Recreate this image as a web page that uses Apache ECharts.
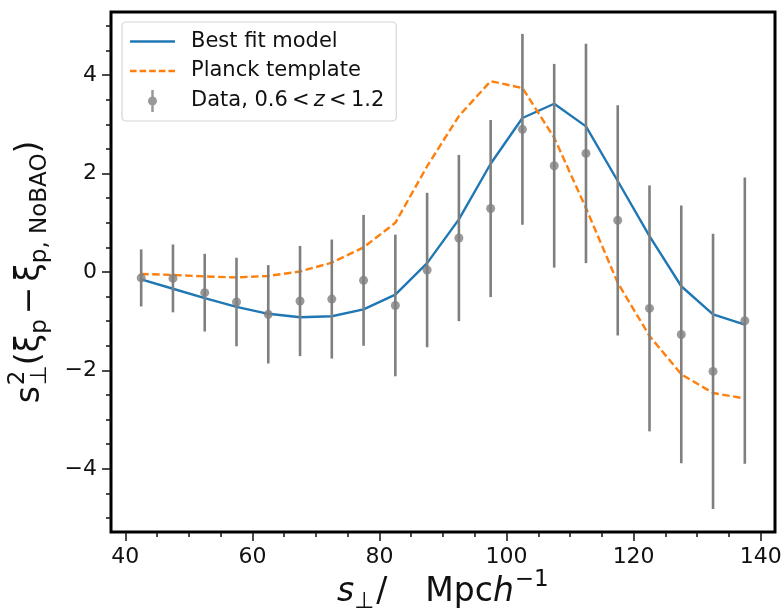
<!DOCTYPE html>
<html>
<head>
<meta charset="utf-8">
<script src="https://cdn.jsdelivr.net/npm/echarts@6/dist/echarts.min.js"></script>
<style>
html,body{margin:0;padding:0;background:#fff;}
#c{width:784px;height:613px;}
</style>
</head>
<body>
<div id="c"></div>
<script>
// ---- data ----
const sPerp = [42.5, 47.5, 52.5, 57.5, 62.5, 67.5, 72.5, 77.5, 82.5, 87.5,
               92.5, 97.5, 102.5, 107.5, 112.5, 117.5, 122.5, 127.5, 132.5, 137.5];
const dataY = [-0.12, -0.13, -0.42, -0.61, -0.86, -0.59, -0.55, -0.17, -0.68, 0.04,
               0.69, 1.29, 2.90, 2.16, 2.41, 1.05, -0.74, -1.27, -2.02, -0.99];
const dataErr = [0.58, 0.69, 0.79, 0.90, 1.00, 1.12, 1.21, 1.33, 1.44, 1.57,
                 1.69, 1.80, 1.94, 2.07, 2.23, 2.34, 2.50, 2.62, 2.80, 2.91];
const bestFit = [-0.15, -0.34, -0.53, -0.71, -0.85, -0.92, -0.90, -0.76, -0.46, 0.18,
                 1.07, 2.20, 3.13, 3.42, 2.96, 1.85, 0.73, -0.29, -0.86, -1.07];
const planck = [-0.04, -0.06, -0.09, -0.11, -0.08, 0.01, 0.19, 0.50, 1.00, 2.15,
                3.17, 3.88, 3.74, 2.73, 1.30, -0.22, -1.30, -2.08, -2.46, -2.57];
const xTicks = [40, 60, 80, 100, 120, 140];
const xMinorTicks = [40, 45, 50, 55, 60, 65, 70, 75, 80, 85, 90, 95, 100, 105, 110, 115, 120, 125, 130, 135, 140];
const yTicks = [-4, -2, 0, 2, 4];
const yMinorTicks = [-5, -4.5, -4, -3.5, -3, -2.5, -2, -1.5, -1, -0.5, 0, 0.5, 1, 1.5, 2, 2.5, 3, 3.5, 4, 4.5, 5];
const nameBest = 'Best fit model';
const namePlanck = 'Planck template';
const nameData = 'Data, 0.6 < z < 1.2';

// ---- helpers ----
const FAM = '"DejaVu Sans"';
const ctx = document.createElement('canvas').getContext('2d');
function mathText(pieces) {
  let x = 0;
  const els = pieces.map(p => {
    ctx.font = p.font;
    const w = ctx.measureText(p.t).width;
    const el = {
      type: 'text', x: x + (p.dx || 0), y: p.dy || 0, silent: true,
      style: { text: p.t, font: p.font, fill: '#111', align: 'left', verticalAlign: 'middle' }
    };
    if (p.adv !== false) x += w + (p.sp || 0);
    return el;
  });
  return { els, width: x };
}
const M = '33px ' + FAM, MI = 'italic 33px ' + FAM, S = '23px ' + FAM;

const xLabel = mathText([
  { t: 's', font: MI },
  { t: '⊥', font: S, dy: 10, sp: 2 },
  { t: '/', font: M, sp: 38 },
  { t: 'Mpc', font: M },
  { t: 'h', font: MI, sp: 1 },
  { t: '−1', font: S, dy: -12 }
]);
const yLabel = mathText([
  { t: 's', font: M, sp: 1 },
  { t: '2', font: S, dy: -12, adv: false },
  { t: '⊥', font: S, dy: 10 },
  { t: '(', font: M },
  { t: 'ξ', font: M },
  { t: 'p', font: S, dy: 10, sp: 5 },
  { t: '−', font: M, sp: 5 },
  { t: 'ξ', font: M },
  { t: 'p, NoBAO', font: S, dy: 10 },
  { t: ')', font: M }
]);

const chart = echarts.init(document.getElementById('c'), null, { renderer: 'canvas' });

const gray = '#7f7f7f';
const tickStyle = { color: '#111', width: 1.5 };
const gridTop = 12, gridBottom = 81;
const axesCenterY = (gridTop + (613 - gridBottom)) / 2;

const option = {
  animation: false,
  backgroundColor: '#fff',
  grid: {
    left: 111, right: 9, top: gridTop, bottom: gridBottom,
    show: true, borderColor: '#000', borderWidth: 3, backgroundColor: 'transparent',
    outerBoundsMode: 'none'
  },
  xAxis: [
    {
      type: 'value', min: 37.75, max: 142.25,
      axisLine: { show: false, onZero: false },
      splitLine: { show: false },
      axisTick: { show: true, inside: false, length: 9, lineStyle: tickStyle, customValues: xTicks },
      axisLabel: { show: true, margin: 14, fontSize: 22, fontFamily: FAM, color: '#111', customValues: xTicks }
    },
    {
      type: 'value', min: 37.75, max: 142.25, position: 'bottom',
      axisLine: { show: false, onZero: false },
      splitLine: { show: false },
      axisTick: { show: true, inside: false, length: 5, lineStyle: tickStyle, customValues: xMinorTicks },
      axisLabel: { show: false }
    }
  ],
  yAxis: [
    {
      type: 'value', min: -5.285, max: 5.285,
      axisLine: { show: false, onZero: false },
      splitLine: { show: false },
      axisTick: { show: true, inside: false, length: 9, lineStyle: tickStyle, customValues: yTicks },
      axisLabel: {
        show: true, margin: 14, fontSize: 22, fontFamily: FAM, color: '#111', customValues: yTicks,
        formatter: v => (v < 0 ? '−' + Math.abs(v) : String(v))
      }
    },
    {
      type: 'value', min: -5.285, max: 5.285, position: 'left',
      axisLine: { show: false, onZero: false },
      splitLine: { show: false },
      axisTick: { show: true, inside: false, length: 5, lineStyle: tickStyle, customValues: yMinorTicks },
      axisLabel: { show: false }
    }
  ],
  legend: {
    orient: 'vertical',
    left: 122, top: 22,
    padding: [9, 12, 9, 8],
    itemWidth: 45, itemHeight: 22, itemGap: 8.5,
    backgroundColor: 'rgba(255,255,255,0.85)',
    borderColor: '#d5d5d5', borderWidth: 1.2, borderRadius: 4,
    itemStyle: { borderWidth: 0 },
    lineStyle: { width: 0 },
    textStyle: {
      fontSize: 21, fontFamily: FAM, color: '#111', padding: [0, 0, 0, 11],
      rich: { i: { fontSize: 21, fontFamily: FAM, fontStyle: 'italic', color: '#111' } }
    },
    formatter: name => (name === nameData ? 'Data, 0.6\u2009<\u2009{i|z}\u2009<\u20091.2' : name),
    data: [
      { name: nameBest, icon: 'path://M0,0H45V2.5H0Z' },
      { name: namePlanck, icon: 'path://M0,0H6.5V2.5H0Z M9.5,0H16V2.5H9.5Z M19,0H25.5V2.5H19Z M28.5,0H35V2.5H28.5Z M38,0H44.5V2.5H38Z' },
      { name: nameData, icon: 'path://M3.25,0H5.75V22H3.25Z M4.5,6.5A4.5,4.5 0 1 1 4.5,15.5A4.5,4.5 0 1 1 4.5,6.5Z' }
    ]
  },
  series: [
    {
      name: nameBest, type: 'line', xAxisIndex: 0, yAxisIndex: 0,
      data: sPerp.map((x, i) => [x, bestFit[i]]),
      showSymbol: false, symbol: 'none', z: 2,
      color: '#1f77b4',
      lineStyle: { color: '#1f77b4', width: 2.4 }
    },
    {
      name: namePlanck, type: 'line', xAxisIndex: 0, yAxisIndex: 0,
      data: sPerp.map((x, i) => [x, planck[i]]),
      showSymbol: false, symbol: 'none', z: 2,
      color: '#ff7f0e',
      lineStyle: { color: '#ff7f0e', width: 2.4, type: [7.5, 3.5] }
    },
    {
      name: nameData, type: 'scatter', xAxisIndex: 0, yAxisIndex: 0,
      data: sPerp.map((x, i) => [x, dataY[i]]),
      symbol: 'circle', symbolSize: 9, z: 5,
      color: gray,
      itemStyle: { color: gray }
    },
    {
      name: nameData, type: 'custom', xAxisIndex: 0, yAxisIndex: 0, z: 4,
      color: gray,
      data: sPerp.map((x, i) => [x, dataY[i] - dataErr[i], dataY[i] + dataErr[i]]),
      renderItem: (params, api) => {
        const lo = api.coord([api.value(0), api.value(1)]);
        const hi = api.coord([api.value(0), api.value(2)]);
        return {
          type: 'line',
          shape: { x1: lo[0], y1: lo[1], x2: hi[0], y2: hi[1] },
          style: { stroke: gray, lineWidth: 2.6 }
        };
      }
    }
  ],
  graphic: [
    { type: 'group', x: 337, y: 592, children: xLabel.els },
    { type: 'group', x: 30, y: axesCenterY + yLabel.width / 2, rotation: Math.PI / 2, children: yLabel.els }
  ]
};
chart.setOption(option);
</script>
</body>
</html>
